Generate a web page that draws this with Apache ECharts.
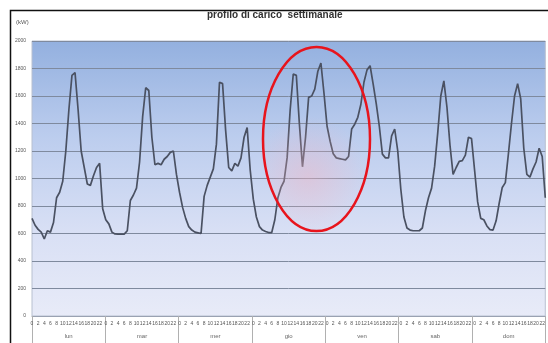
<!DOCTYPE html>
<html>
<head>
<meta charset="utf-8">
<script src="https://cdn.jsdelivr.net/npm/echarts@6/dist/echarts.min.js"></script>
<style>html,body{margin:0;padding:0;background:#fff;}#c{width:548px;height:343px;}</style>
</head>
<body>
<div id="c"></div>
<script>
var hourLabels = ['0','1','2','3','4','5','6','7','8','9','10','11','12','13','14','15','16','17','18','19','20','21','22','23'];
var days = ['lun', 'mar', 'mer', 'gio', 'ven', 'sab', 'dom'];
var yTicks = { min: 0, max: 2000, step: 200 };

var day1 = [710, 660, 630, 610, 560, 620, 610, 680, 860, 900, 980, 1200, 1500, 1750, 1770, 1500, 1200, 1080, 960, 950, 1020, 1080, 1110, 780];
var day2 = [700, 670, 610, 597, 595, 595, 595, 620, 840, 880, 930, 1120, 1450, 1660, 1640, 1300, 1100, 1110, 1100, 1140, 1160, 1190, 1200, 1030];
var day3 = [900, 790, 710, 650, 625, 610, 605, 600, 870, 950, 1010, 1070, 1250, 1700, 1690, 1350, 1080, 1055, 1110, 1090, 1150, 1300, 1370, 1060];
var day4 = [850, 720, 650, 625, 615, 607, 607, 700, 860, 935, 980, 1150, 1500, 1760, 1750, 1395, 1085, 1300, 1590, 1600, 1650, 1780, 1840, 1620];
var day5 = [1380, 1270, 1180, 1150, 1145, 1140, 1135, 1160, 1360, 1395, 1445, 1540, 1700, 1790, 1820, 1686, 1545, 1380, 1177, 1150, 1150, 1310, 1360, 1200];
var day6 = [920, 720, 640, 625, 620, 620, 620, 640, 765, 860, 930, 1090, 1330, 1600, 1710, 1520, 1240, 1030, 1080, 1125, 1130, 1170, 1300, 1290];
var day7 = [1060, 830, 710, 700, 655, 628, 625, 692, 820, 935, 970, 1180, 1400, 1600, 1690, 1580, 1220, 1030, 1010, 1070, 1120, 1220, 1160, 860];

var load = [].concat(day1, day2, day3, day4, day5, day6, day7);
var xCats = [];
for (var d = 0; d < days.length; d++) { xCats = xCats.concat(hourLabels); }

var chart = echarts.init(document.getElementById('c'), null, { renderer: 'canvas' });
var FONT = 'Liberation Sans';
chart.setOption({
  animation: false,
  backgroundColor: '#ffffff',
  textStyle: { fontFamily: FONT },
  title: {
    text: 'profilo di carico  settimanale',
    left: 207, top: 10, padding: 0,
    textStyle: { fontSize: 10, fontWeight: 'bold', color: '#333', fontFamily: FONT }
  },
  grid: {
    left: 32, right: 2, top: 41, bottom: 27,
    show: true,
    borderColor: '#b8c0d0', borderWidth: 1,
    backgroundColor: new echarts.graphic.LinearGradient(0, 0, 0, 1, [
      { offset: 0, color: '#93b0df' },
      { offset: 0.35, color: '#bccdee' },
      { offset: 0.7, color: '#d9e0f5' },
      { offset: 1, color: '#e8ebf8' }
    ])
  },
  xAxis: [
    {
      type: 'category', data: xCats, boundaryGap: false,
      axisLine: { show: true, lineStyle: { color: '#9aa2b2' } },
      axisTick: { show: false },
      axisLabel: { interval: 1, fontSize: 5, color: '#555', margin: 5, fontFamily: FONT },
      splitLine: { show: false }
    },
    {
      type: 'category', data: days, boundaryGap: true, position: 'bottom',
      axisLine: { show: false },
      axisTick: { show: true, length: 27, lineStyle: { color: '#b0b0b0' } },
      axisLabel: { fontSize: 6, color: '#666', margin: 17, fontFamily: FONT },
      splitLine: { show: false }
    }
  ],
  yAxis: {
    type: 'value', min: yTicks.min, max: yTicks.max, interval: yTicks.step,
    axisLine: { show: false }, axisTick: { show: false },
    axisLabel: { fontSize: 5, color: '#555', margin: 6, fontFamily: FONT, formatter: function (v) { return String(v); } },
    splitLine: { show: true, lineStyle: { color: '#7f8a9e', width: 1 } }
  },
  series: [{
    type: 'line', data: load, xAxisIndex: 0, yAxisIndex: 0,
    showSymbol: false, symbol: 'none', smooth: false,
    lineStyle: { color: '#4a5162', width: 1.7 },
    z: 3
  }],
  graphic: [
    {
      type: 'ellipse', z: 10,
      shape: { cx: 316.5, cy: 139, rx: 53.5, ry: 92 },
      style: {
        fill: new echarts.graphic.RadialGradient(0.42, 0.7, 0.55, [
          { offset: 0, color: 'rgba(240,180,195,0.45)' },
          { offset: 1, color: 'rgba(240,180,195,0)' }
        ]),
        stroke: '#e8141c', lineWidth: 2.5
      }
    },
    {
      type: 'text', left: 16, top: 19, z: 10,
      style: { text: '(kW)', fontSize: 6, fill: '#555', fontFamily: FONT }
    },
    {
      type: 'rect', z: 100,
      shape: { x: 10.5, y: 10.5, width: 600, height: 400 },
      style: { fill: 'none', stroke: '#111', lineWidth: 1.5 }
    }
  ]
});
</script>
</body>
</html>
